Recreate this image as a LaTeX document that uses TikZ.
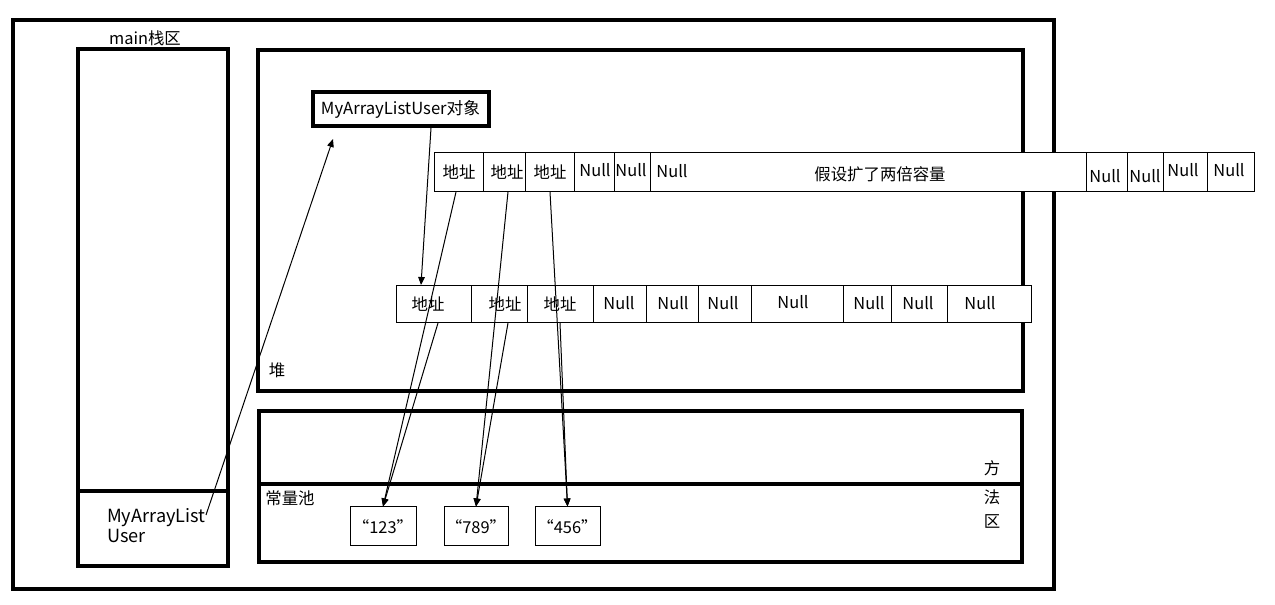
\documentclass[tikz,border=0pt]{standalone}
\usepackage{fontspec}
\setmainfont{Noto Sans CJK SC}
\usetikzlibrary{fit,arrows.meta}
\newcommand\mkcell[5]{\node[cell, fit={(#2,#4) (#3,#5)}] (#1) {};}
\begin{document}
\begin{tikzpicture}[x=0.75pt,y=-0.75pt,
  thickbox/.style={draw, line width=3pt, inner sep=0pt},
  cell/.style={draw, fill=white, line width=0.75pt, inner sep=0pt},
  txt/.style={inner sep=0pt, font=\fontsize{12.3}{14}\selectfont},
  bigtxt/.style={inner sep=0pt, font=\fontsize{13.6}{15}\selectfont},
  conn/.style={line width=0.75pt},
  arr/.style={conn, -{Triangle[length=6pt,width=5pt]}}]
\useasboundingbox (0,0) rectangle (1275,605);
% regions
\node[thickbox, fit={(13,20) (1054,589)}] (outer) {};
\node[thickbox, fit={(78,49) (228,566)}] (stack) {};
\draw[line width=3pt] (78,491) -- (228,491);
\node[thickbox, fit={(258,50) (1023,391)}] (heap) {};
\node[thickbox, fit={(259,411) (1022,562)}] (method) {};
\draw[line width=3pt] (259,484) -- (1022,484);
% labels
\node[txt] (mainlbl) at (145,38) {main栈区};
\node[bigtxt, anchor=west, align=left] (user) at (107,526) {MyArrayList\\User};
\node[txt] (heaplbl) at (277,370) {堆};
\node[txt] (poollbl) at (290,498) {常量池};
\node[txt] (f1) at (992,468) {方};
\node[txt] (f2) at (992,497) {法};
\node[txt] (f3) at (992,521) {区};
% object
\node[draw, line width=3pt, fill=white, minimum width=176*0.75pt, minimum height=34*0.75pt, inner sep=0pt, font=\fontsize{12.5}{14}\selectfont] (obj) at (400.5,109.5) {MyArrayListUser对象};
% bottom row
\mkcell{b1}{396}{471}{286}{323}
\mkcell{b2}{471}{527}{286}{323}
\mkcell{b3}{527}{593}{286}{323}
\mkcell{b4}{593}{646}{286}{323}
\mkcell{b5}{646}{698}{286}{323}
\mkcell{b6}{698}{751}{286}{323}
\mkcell{b7}{751}{843}{286}{323}
\mkcell{b8}{843}{891}{286}{323}
\mkcell{b9}{891}{947}{286}{323}
\mkcell{b10}{947}{1031}{286}{323}
\node[txt] (b1t) at (428,304) {地址};
\node[txt] (b2t) at (505,304) {地址};
\node[txt] (b3t) at (560,304) {地址};
\node[txt] (b4t) at (619,303) {Null};
\node[txt] (b5t) at (673,303) {Null};
\node[txt] (b6t) at (723,303) {Null};
\node[txt] (b7t) at (793,302) {Null};
\node[txt] (b8t) at (869,303) {Null};
\node[txt] (b9t) at (918,303) {Null};
\node[txt] (b10t) at (980,303) {Null};
% top row
\mkcell{t1}{434}{483}{153}{192}
\mkcell{t2}{483}{525}{153}{192}
\mkcell{t3}{525}{574}{153}{192}
\mkcell{t4}{574}{614}{153}{192}
\mkcell{t5}{614}{650}{153}{192}
\mkcell{t6}{650}{1086}{153}{192}
\mkcell{t7}{1086}{1127}{153}{192}
\mkcell{t8}{1127}{1163}{153}{192}
\mkcell{t9}{1163}{1207}{153}{192}
\mkcell{t10}{1207}{1254}{153}{192}
\node[txt] (t1t) at (459,172) {地址};
\node[txt] (t2t) at (507,172) {地址};
\node[txt] (t3t) at (550,172) {地址};
\node[txt] (t4t) at (595,170) {Null};
\node[txt] (t5t) at (631,170) {Null};
\node[txt] (t6t) at (672,171) {Null};
\node[txt] (t6big) at (880,174) {假设扩了两倍容量};
\node[txt] (t7t) at (1105,176) {Null};
\node[txt] (t8t) at (1145,176) {Null};
\node[txt] (t9t) at (1183,170) {Null};
\node[txt] (t10t) at (1229,170) {Null};
% string constants
\node[cell, fit={(350,507) (416,546)}] (s123) {};
\node[cell, fit={(444,507) (508,546)}] (s789) {};
\node[cell, fit={(535,507) (600,546)}] (s456) {};
\node[txt] (s123t) at (s123) {“123”};
\node[txt] (s789t) at (s789) {“789”};
\node[txt] (s456t) at (s456) {“456”};
% connector ends
\coordinate (usrc) at (206,515);
\coordinate (objtgt) at (333,139);
\coordinate (objsrc) at (431,128);
\coordinate (bowtgt) at (421,285);
\coordinate (ta) at (456,192);
\coordinate (tb) at (508,192);
\coordinate (tc) at (550,192);
\coordinate (ba) at (438,323);
\coordinate (bb) at (508,323);
\coordinate (bc) at (560,323);
% connectors
\draw[arr] (usrc) -- (objtgt);
\draw[arr] (objsrc) -- (bowtgt);
\draw[arr] (ta) -- (s123.north);
\draw[arr] (ba) -- (s123.north);
\draw[arr] (tb) -- (s789.north);
\draw[arr] (bb) -- (s789.north);
\draw[arr] (tc) -- (s456.north);
\draw[arr] (bc) -- (s456.north);
\end{tikzpicture}
\end{document}
